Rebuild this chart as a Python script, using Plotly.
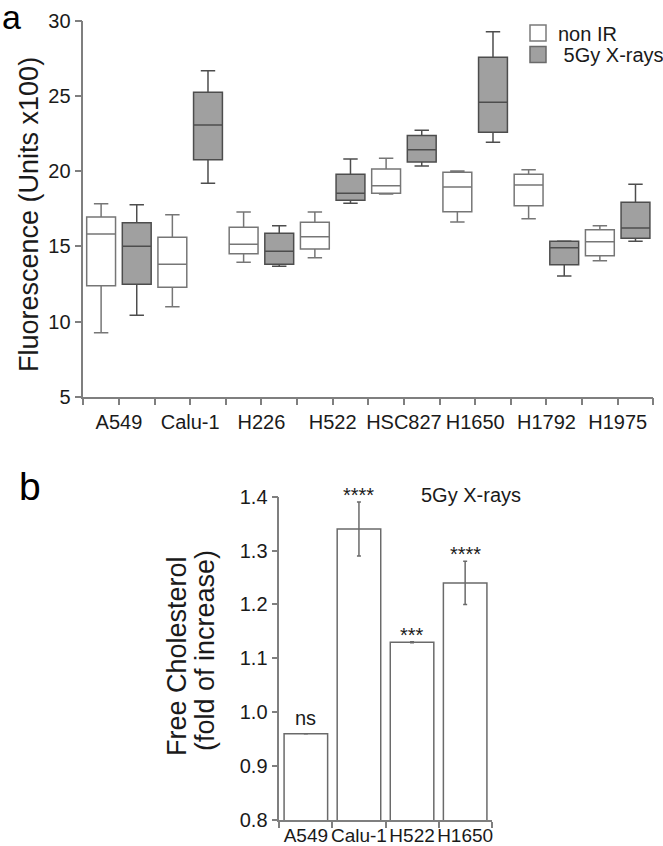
import plotly.graph_objects as go

# ---------------- data: panel a ----------------
cells = ["A549", "Calu-1", "H226", "H522", "HSC827", "H1650", "H1792", "H1975"]

nonir_lo = [9.26, 10.98, 13.94, 14.24, 18.48, 16.62, 16.84, 14.04]
nonir_q1 = [12.38, 12.27, 14.51, 14.82, 18.52, 17.30, 17.70, 14.37]
nonir_med = [15.82, 13.80, 15.13, 15.64, 19.03, 18.94, 19.08, 15.30]
nonir_q3 = [16.95, 15.60, 16.26, 16.60, 20.14, 19.92, 19.79, 16.10]
nonir_hi = [17.83, 17.10, 17.28, 17.28, 20.85, 20.01, 20.09, 16.37]

xray_lo = [10.41, 19.19, 13.67, 17.86, 20.34, 21.91, 13.03, 15.33]
xray_q1 = [12.47, 20.76, 13.80, 18.06, 20.60, 22.58, 13.78, 15.53]
xray_med = [15.00, 23.07, 14.67, 18.52, 21.42, 24.57, 14.91, 16.22]
xray_q3 = [16.57, 25.24, 15.86, 19.79, 22.36, 27.57, 15.33, 17.93]
xray_hi = [17.77, 26.68, 16.37, 20.80, 22.71, 29.27, 15.36, 19.12]

yticks_a = [5, 10, 15, 20, 25, 30]

# ---------------- data: panel b ----------------
chol_cells = ["A549", "Calu-1", "H522", "H1650"]
chol_vals = [0.96, 1.34, 1.13, 1.24]
chol_err = [0.0, 0.05, 0.001, 0.04]
chol_sig = ["ns", "****", "***", "****"]
yticks_b = [0.8, 0.9, 1.0, 1.1, 1.2, 1.3, 1.4]

FONT = "Liberation Sans"
TXT = "#1a1a1a"
AX = "#7f7f7f"
W, H = 663, 846

pos = list(range(len(cells)))

fig = go.Figure()

fig.add_trace(go.Box(
    x=pos, q1=nonir_q1, median=nonir_med, q3=nonir_q3,
    lowerfence=nonir_lo, upperfence=nonir_hi,
    name="non IR", fillcolor="white", line=dict(color="#767676", width=1.5),
    whiskerwidth=0.5, showlegend=False, xaxis="x", yaxis="y", offsetgroup="a",
))
fig.add_trace(go.Box(
    x=pos, q1=xray_q1, median=xray_med, q3=xray_q3,
    lowerfence=xray_lo, upperfence=xray_hi,
    name="5Gy X-rays", fillcolor="#a0a0a0", line=dict(color="#4d4d4d", width=1.5),
    whiskerwidth=0.5, showlegend=False, xaxis="x", yaxis="y", offsetgroup="b",
))

# legend entries (one legend box each, so the rows can sit close together)
fig.add_trace(go.Scatter(
    x=[None], y=[None], mode="markers", name="non IR", legend="legend",
    marker=dict(symbol="square", size=16, color="white", line=dict(color="#7a7a7a", width=1.5)),
    xaxis="x", yaxis="y",
))
fig.add_trace(go.Scatter(
    x=[None], y=[None], mode="markers", name=" 5Gy X-rays", legend="legend2",
    marker=dict(symbol="square", size=16, color="#a0a0a0", line=dict(color="#6a6a6a", width=1.5)),
    xaxis="x", yaxis="y",
))

# panel b bars
fig.add_trace(go.Bar(
    x=chol_cells, y=chol_vals,
    marker=dict(color="white", line=dict(color="#6a6a6a", width=1.5)),
    error_y=dict(type="data", array=chol_err, color="#6a6a6a", thickness=1.5, width=2),
    showlegend=False, xaxis="x2", yaxis="y2",
))

# domains in paper fraction from pixel layout
xa0, xa1 = 83.3 / W, 653.3 / W
ya0, ya1 = (H - 396.7) / H, (H - 20.7) / H
xb0, xb1 = 279.3 / W, 491.7 / W
yb0, yb1 = (H - 820.0) / H, (H - 496.7) / H

axis_common = dict(
    showline=True, linecolor=AX, linewidth=1.5, ticks="outside",
    tickcolor=AX, tickwidth=1.5, showgrid=False, zeroline=False,
    mirror=False, automargin=False,
)

annotations = []
# significance labels
for c, v, e, s in zip(chol_cells, chol_vals, chol_err, chol_sig):
    annotations.append(dict(
        x=c, y=v + e, xref="x2", yref="y2", text=s, showarrow=False,
        yanchor="bottom", yshift=(-6 if "*" in s else 3),
        font=dict(family=FONT, size=20, color=TXT),
    ))

annotations += [
    dict(text="Fluorescence (Units x100)", textangle=-90, x=29 / W, y=(H - 215) / H,
         xref="paper", yref="paper", xanchor="center", yanchor="middle", showarrow=False,
         font=dict(family=FONT, size=27, color=TXT)),
    dict(text="Free Cholesterol", textangle=-90, x=177 / W, y=(H - 656) / H,
         xref="paper", yref="paper", xanchor="center", yanchor="middle", showarrow=False,
         font=dict(family=FONT, size=27, color=TXT)),
    dict(text="(fold of increase)", textangle=-90, x=205 / W, y=(H - 651) / H,
         xref="paper", yref="paper", xanchor="center", yanchor="middle", showarrow=False,
         font=dict(family=FONT, size=27, color=TXT)),
    dict(text="5Gy X-rays", x=471 / W, y=(H - 495) / H, xref="paper", yref="paper",
         xanchor="center", yanchor="middle", showarrow=False,
         font=dict(family=FONT, size=20, color=TXT)),
    dict(text="a", x=0, y=1.0, xref="paper", yref="paper", xanchor="left", yanchor="top",
         xshift=0, yshift=4,
         showarrow=False, font=dict(family=FONT, size=34, color="#000")),
    dict(text="b", x=17 / W, y=(H - 463) / H, xref="paper", yref="paper", xanchor="left",
         yanchor="top", showarrow=False, font=dict(family=FONT, size=39, color="#000")),
]

legend_common = dict(
    xanchor="left", yanchor="top", bgcolor="rgba(0,0,0,0)",
    font=dict(family=FONT, size=20, color=TXT), itemsizing="trace", borderwidth=0,
)

fig.update_layout(
    template="none",
    width=W, height=H,
    margin=dict(l=0, r=0, t=0, b=0, pad=0, autoexpand=False),
    paper_bgcolor="white", plot_bgcolor="white",
    boxmode="group", boxgap=0, boxgroupgap=0.19, bargap=0.18,
    font=dict(family=FONT, color=TXT),
    xaxis=dict(
        domain=[xa0, xa1], anchor="y", type="linear", range=[-0.5, len(cells) - 0.5],
        tickmode="array", tickvals=pos, ticktext=cells, ticklen=7, tickangle=0,
        tickfont=dict(family=FONT, size=20, color=TXT),
        minor=dict(tickmode="array", tickvals=[p - 0.5 for p in pos] + [len(cells) - 0.5],
                   ticks="outside", ticklen=7, tickcolor=AX, tickwidth=1.5, showgrid=False),
        **axis_common,
    ),
    yaxis=dict(
        domain=[ya0, ya1], anchor="x", range=[yticks_a[0], yticks_a[-1]],
        tickmode="array", tickvals=yticks_a, ticklen=7,
        tickfont=dict(family=FONT, size=20, color=TXT),
        **axis_common,
    ),
    xaxis2=dict(
        domain=[xb0, xb1], anchor="y2", type="category", categoryorder="array",
        categoryarray=chol_cells, range=[-0.5, len(chol_cells) - 0.5], tickson="boundaries",
        ticklen=6, tickangle=0, ticklabelstandoff=-3,
        tickfont=dict(family=FONT, size=19, color=TXT),
        **axis_common,
    ),
    yaxis2=dict(
        domain=[yb0, yb1], anchor="x2", range=[yticks_b[0], yticks_b[-1]],
        tickmode="array", tickvals=yticks_b, ticktext=[f"{v:.1f}" for v in yticks_b],
        ticklen=6, tickfont=dict(family=FONT, size=20, color=TXT),
        **axis_common,
    ),
    legend=dict(x=518 / W, y=(H - 13.5) / H, **legend_common),
    legend2=dict(x=518 / W, y=(H - 35) / H, **legend_common),
    annotations=annotations,
)

# remove the default 8px page margin so the figure fills the window exactly
fig.write_html(
    "out.html",
    config={"displayModeBar": False},
    post_script="document.body.style.margin='0';",
)
